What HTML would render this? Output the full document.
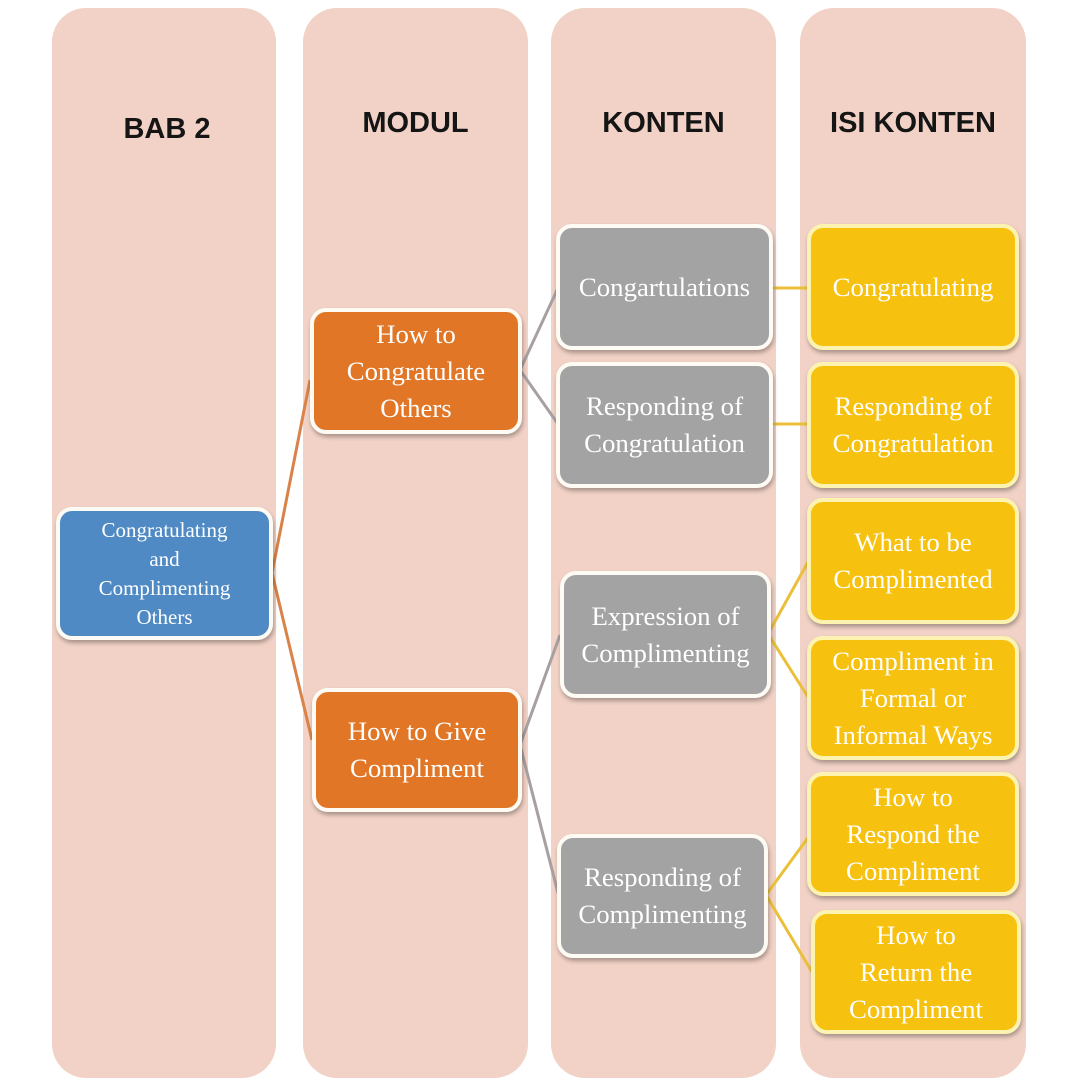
<!DOCTYPE html>
<html><head><style>
body{margin:0;width:1080px;height:1080px;background:#fff;position:relative;overflow:hidden;font-family:"Liberation Serif",serif}
.col{position:absolute;top:8px;height:1070px;background:#f2d2c6;border-radius:34px}
.h{position:absolute;font-family:"Liberation Sans",sans-serif;font-weight:bold;font-size:29px;color:#151515;text-align:center}
.n{position:absolute;box-sizing:border-box;border:4px solid #fdfbf3;border-radius:16px;color:#fff;display:flex;align-items:center;justify-content:center;text-align:center;font-size:26.8px;line-height:37px;box-shadow:1px 3px 4px rgba(0,0,0,.3);white-space:nowrap}
.o{background:#e07626}.g{background:#a4a3a3}.y{background:#f6c10f;border-color:#fdf3b0}.b{background:#4f8ac4;font-size:21px;line-height:29px}
svg{position:absolute;left:0;top:0}
</style></head><body>
<div class="col" style="left:52px;width:224px"></div>
<div class="col" style="left:303px;width:225px"></div>
<div class="col" style="left:551px;width:225px"></div>
<div class="col" style="left:800px;width:226px"></div>
<div class="h" style="left:52px;width:230px;top:113px">BAB 2</div>
<div class="h" style="left:303px;width:225px;top:107px">MODUL</div>
<div class="h" style="left:551px;width:225px;top:107px">KONTEN</div>
<div class="h" style="left:800px;width:226px;top:107px">ISI KONTEN</div>
<svg width="1080" height="1080">
<g stroke="#d9824a" stroke-width="3" fill="none">
<path d="M272 573 L310 380"/><path d="M272 573 L312 740"/></g>
<g stroke="#a8a0a0" stroke-width="3" fill="none">
<path d="M520 370 L558 288"/><path d="M520 370 L558 424"/>
<path d="M520 745 L560 635"/><path d="M520 745 L558 893"/></g>
<g stroke="#eac03a" stroke-width="3" fill="none">
<path d="M772 288 L808 288"/><path d="M772 424 L808 424"/>
<path d="M768 634 L808 562"/><path d="M768 634 L808 697"/>
<path d="M766 895 L810 835"/><path d="M766 895 L812 972"/></g>
</svg>
<div class="n b" style="left:56px;top:507px;width:217px;height:133px">Congratulating<br>and<br>Complimenting<br>Others</div>
<div class="n o" style="left:310px;top:308px;width:212px;height:126px">How to<br>Congratulate<br>Others</div>
<div class="n o" style="left:312px;top:688px;width:210px;height:124px">How to Give<br>Compliment</div>
<div class="n g" style="left:556px;top:224px;width:217px;height:126px">Congartulations</div>
<div class="n g" style="left:556px;top:362px;width:217px;height:126px">Responding of<br>Congratulation</div>
<div class="n g" style="left:560px;top:571px;width:211px;height:127px">Expression of<br>Complimenting</div>
<div class="n g" style="left:557px;top:834px;width:211px;height:124px">Responding of<br>Complimenting</div>
<div class="n y" style="left:807px;top:224px;width:212px;height:126px">Congratulating</div>
<div class="n y" style="left:807px;top:362px;width:212px;height:126px">Responding of<br>Congratulation</div>
<div class="n y" style="left:807px;top:498px;width:212px;height:126px">What to be<br>Complimented</div>
<div class="n y" style="left:807px;top:636px;width:212px;height:124px">Compliment in<br>Formal or<br>Informal Ways</div>
<div class="n y" style="left:807px;top:772px;width:212px;height:124px">How to<br>Respond the<br>Compliment</div>
<div class="n y" style="left:811px;top:910px;width:210px;height:124px">How to<br>Return the<br>Compliment</div>
</body></html>
